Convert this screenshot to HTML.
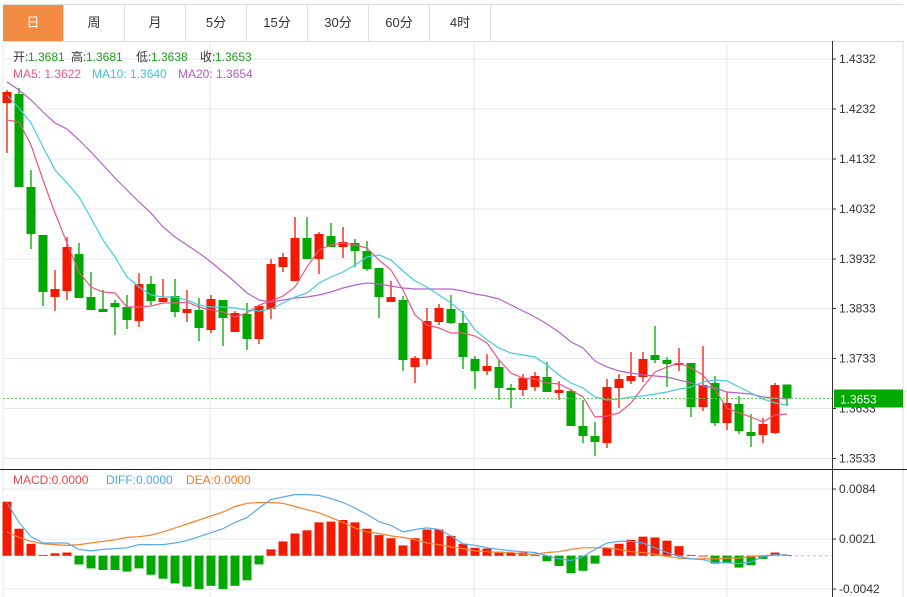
<!DOCTYPE html>
<html><head><meta charset="utf-8"><style>
body{margin:0;background:#fff;width:907px;height:597px;overflow:hidden;font-family:"Liberation Sans","Noto Sans CJK SC",sans-serif;}
#tabs{position:absolute;left:3px;top:4px;height:36px;display:flex;border-top:1px solid #ddd;border-bottom:1px solid #ddd;width:900px}
.tab{width:60px;border-right:1px solid #ddd;text-align:center;line-height:36px;font-size:13px;color:#333}
.tab.on{background:#F38C42;color:#fff}
svg{position:absolute;left:0;top:0}
</style></head><body>
<div id="tabs">
<div class="tab on">日</div>
<div class="tab">周</div>
<div class="tab">月</div>
<div class="tab">5分</div>
<div class="tab">15分</div>
<div class="tab">30分</div>
<div class="tab">60分</div>
<div class="tab">4时</div>
</div>
<svg id="chart" width="907" height="597"></svg>
<script>
const opens=[1.4244,1.4262,1.4076,1.3980,1.3856,1.3868,1.3942,1.3856,1.3832,1.3844,1.3836,1.3808,1.3882,1.3846,1.3858,1.3824,1.3830,1.3790,1.3850,1.3786,1.3822,1.3772,1.3832,1.3916,1.3888,1.3974,1.3932,1.3978,1.3956,1.3964,1.3948,1.3914,1.3846,1.3850,1.3716,1.3732,1.3806,1.3832,1.3804,1.3732,1.3708,1.3716,1.3674,1.3670,1.3676,1.3696,1.3664,1.3668,1.3598,1.3578,1.3564,1.3674,1.3688,1.3696,1.3740,1.3730,1.3720,1.3724,1.3636,1.3684,1.3604,1.3642,1.3586,1.3580,1.3584,1.3681];
const highs=[1.4270,1.4274,1.4110,1.3980,1.3910,1.3976,1.3964,1.3906,1.3870,1.3850,1.3860,1.3904,1.3898,1.3892,1.3892,1.3870,1.3854,1.3860,1.3850,1.3828,1.3844,1.3838,1.3932,1.3944,1.4016,1.4016,1.3986,1.4004,1.3996,1.3972,1.3968,1.3914,1.3888,1.3858,1.3738,1.3834,1.3842,1.3860,1.3828,1.3738,1.3742,1.3730,1.3682,1.3702,1.3706,1.3726,1.3688,1.3672,1.3650,1.3606,1.3692,1.3702,1.3746,1.3746,1.3798,1.3736,1.3754,1.3724,1.3758,1.3698,1.3666,1.3658,1.3622,1.3614,1.3684,1.3681];
const lows=[1.4144,1.4076,1.3952,1.3838,1.3828,1.3850,1.3854,1.3830,1.3826,1.3780,1.3792,1.3796,1.3840,1.3846,1.3816,1.3806,1.3768,1.3784,1.3758,1.3786,1.3750,1.3762,1.3812,1.3906,1.3888,1.3932,1.3902,1.3956,1.3934,1.3916,1.3908,1.3814,1.3846,1.3708,1.3684,1.3720,1.3800,1.3802,1.3712,1.3672,1.3700,1.3650,1.3634,1.3658,1.3668,1.3666,1.3650,1.3598,1.3564,1.3538,1.3554,1.3634,1.3682,1.3686,1.3724,1.3676,1.3708,1.3616,1.3628,1.3598,1.3590,1.3582,1.3556,1.3564,1.3582,1.3638];
const closes=[1.4266,1.4076,1.3982,1.3866,1.3872,1.3956,1.3854,1.3830,1.3826,1.3836,1.3810,1.3882,1.3848,1.3854,1.3826,1.3832,1.3794,1.3852,1.3814,1.3824,1.3772,1.3838,1.3922,1.3936,1.3974,1.3932,1.3982,1.3956,1.3966,1.3948,1.3912,1.3856,1.3856,1.3730,1.3734,1.3808,1.3834,1.3804,1.3736,1.3708,1.3718,1.3674,1.3670,1.3694,1.3698,1.3666,1.3670,1.3598,1.3578,1.3566,1.3676,1.3692,1.3698,1.3732,1.3730,1.3722,1.3724,1.3636,1.3680,1.3604,1.3644,1.3588,1.3578,1.3602,1.3680,1.3653];
const ma5=[1.4210,1.4206,1.4160,1.4090,1.4024,1.3964,1.3906,1.3876,1.3866,1.3864,1.3836,1.3836,1.3838,1.3844,1.3844,1.3846,1.3836,1.3830,1.3826,1.3816,1.3824,1.3840,1.3848,1.3858,1.3876,1.3916,1.3950,1.3960,1.3964,1.3960,1.3954,1.3930,1.3910,1.3870,1.3820,1.3800,1.3794,1.3784,1.3784,1.3778,1.3764,1.3730,1.3704,1.3694,1.3692,1.3684,1.3682,1.3670,1.3656,1.3616,1.3618,1.3624,1.3644,1.3676,1.3706,1.3716,1.3724,1.3714,1.3700,1.3670,1.3634,1.3624,1.3616,1.3606,1.3620,1.3622];
const ma10=[1.4260,1.4234,1.4204,1.4156,1.4110,1.4084,1.4056,1.4014,1.3970,1.3936,1.3896,1.3876,1.3860,1.3856,1.3856,1.3850,1.3840,1.3836,1.3836,1.3834,1.3830,1.3828,1.3832,1.3844,1.3856,1.3864,1.3884,1.3896,1.3906,1.3920,1.3936,1.3940,1.3930,1.3908,1.3888,1.3876,1.3860,1.3844,1.3824,1.3790,1.3770,1.3754,1.3744,1.3740,1.3736,1.3720,1.3700,1.3684,1.3674,1.3656,1.3650,1.3652,1.3656,1.3658,1.3662,1.3666,1.3672,1.3676,1.3686,1.3690,1.3688,1.3676,1.3664,1.3652,1.3644,1.3640];
const ma20=[1.4286,1.4270,1.4250,1.4226,1.4204,1.4192,1.4170,1.4146,1.4120,1.4094,1.4070,1.4046,1.4024,1.3996,1.3976,1.3960,1.3944,1.3926,1.3906,1.3886,1.3864,1.3850,1.3846,1.3850,1.3854,1.3856,1.3860,1.3866,1.3874,1.3880,1.3884,1.3882,1.3878,1.3874,1.3872,1.3872,1.3872,1.3872,1.3868,1.3862,1.3858,1.3852,1.3840,1.3828,1.3816,1.3802,1.3786,1.3766,1.3754,1.3728,1.3716,1.3708,1.3704,1.3700,1.3698,1.3696,1.3690,1.3684,1.3678,1.3674,1.3666,1.3664,1.3662,1.3656,1.3654,1.3652];
const macdHist=[0.0068,0.0034,0.0015,0.0001,0.0003,0.0004,-0.0011,-0.0016,-0.0018,-0.0018,-0.0020,-0.0016,-0.0024,-0.0029,-0.0035,-0.0039,-0.0042,-0.0038,-0.0042,-0.0038,-0.0031,-0.0011,0.0008,0.0018,0.0028,0.0032,0.0042,0.0043,0.0045,0.0042,0.0034,0.0026,0.0022,0.0013,0.0022,0.0033,0.0033,0.0025,0.0015,0.0010,0.0009,0.0005,0.0004,0.0004,0.0001,-0.0007,-0.0013,-0.0022,-0.0019,-0.0010,0.0010,0.0015,0.0020,0.0024,0.0023,0.0019,0.0012,0.0001,0.0000,-0.0010,-0.0009,-0.0015,-0.0012,-0.0004,0.0004,0.0001];
const diff=[0.0067,0.0042,0.0024,0.0016,0.0016,0.0016,0.0008,0.0006,0.0008,0.0009,0.0010,0.0014,0.0014,0.0014,0.0016,0.0019,0.0024,0.0029,0.0034,0.0042,0.0048,0.0060,0.0071,0.0074,0.0077,0.0077,0.0076,0.0072,0.0067,0.0060,0.0052,0.0043,0.0038,0.0030,0.0033,0.0035,0.0033,0.0025,0.0015,0.0013,0.0010,0.0008,0.0006,0.0005,0.0004,0.0000,-0.0004,-0.0006,-0.0001,0.0008,0.0016,0.0018,0.0018,0.0016,0.0010,0.0004,-0.0001,-0.0004,-0.0005,-0.0009,-0.0009,-0.0010,-0.0008,-0.0001,0.0001,0.0001];
const dea=[0.0030,0.0023,0.0018,0.0015,0.0014,0.0013,0.0014,0.0016,0.0018,0.0020,0.0023,0.0024,0.0026,0.0030,0.0035,0.0040,0.0045,0.0050,0.0055,0.0062,0.0066,0.0067,0.0067,0.0066,0.0062,0.0058,0.0054,0.0048,0.0042,0.0035,0.0030,0.0028,0.0025,0.0023,0.0020,0.0016,0.0014,0.0011,0.0009,0.0006,0.0005,0.0004,0.0004,0.0002,0.0002,0.0004,0.0005,0.0008,0.0010,0.0010,0.0010,0.0008,0.0005,0.0004,0.0002,-0.0001,-0.0003,-0.0004,-0.0004,-0.0004,-0.0003,-0.0003,-0.0001,0,0.0001,0.0001];
const priceTicks=["1.4332","1.4232","1.4132","1.4032","1.3932","1.3833","1.3733","1.3633","1.3533"];
const macdTicks=["0.0084","0.0021","-0.0042"];
const lastPrice=1.3653;

const NS="http://www.w3.org/2000/svg";
const svg=document.getElementById('chart');
function mk(tag,attrs,parent){const e=document.createElementNS(NS,tag);for(const k in attrs)e.setAttribute(k,attrs[k]);(parent||svg).appendChild(e);return e;}
const xOf=i=>7+i*12;
const yP=v=>59+(1.4332-v)*5000;
const yM=v=>555.7-v/0.000126;
const RED="#F21A00",GREEN="#00A800";
priceTicks.forEach((t,i)=>{const y=yP(parseFloat(t));
 const g=mk('line',{x1:3,x2:832,y1:y,y2:y,stroke:'#E3EAF0'});
 
 mk('line',{x1:832,x2:836,y1:y,y2:y,stroke:'#333'});
 const tx=mk('text',{x:839,y:y+4,'font-size':12,fill:'#333'});tx.textContent=t;
 
});
macdTicks.forEach(t=>{const y=yM(parseFloat(t));
 const g=mk('line',{x1:3,x2:832,y1:y,y2:y,stroke:'#E3EAF0'});
 
 mk('line',{x1:832,x2:836,y1:y,y2:y,stroke:'#333'});
 const tx=mk('text',{x:839,y:y+4,'font-size':12,fill:'#333'});tx.textContent=t;
 
});
[210,474,727].forEach(x=>{mk('line',{x1:x,x2:x,y1:41,y2:468,stroke:'#E3EAF0'});mk('line',{x1:x,x2:x,y1:470,y2:597,stroke:'#E3EAF0'});});
mk('line',{x1:3,x2:3,y1:41,y2:597,stroke:'#E3EAF0'});
mk('line',{x1:903,x2:903,y1:41,y2:597,stroke:'#DDD'});
mk('line',{x1:832.5,x2:832.5,y1:41,y2:597,stroke:'#333'});
mk('line',{x1:0,x2:907,y1:469.5,y2:469.5,stroke:'#222'});
mk('line',{x1:3,x2:832,y1:555.7,y2:555.7,stroke:'#9CCBEA','stroke-dasharray':'3,3'});
closes.forEach((c,i)=>{const o=opens[i],up=c>=o,col=up?RED:GREEN,x=xOf(i);
 const g=mk('g',{});
 mk('line',{x1:x,x2:x,y1:yP(highs[i]),y2:yP(lows[i]),stroke:col,'stroke-width':1.3},g);
 const t=yP(Math.max(o,c)),b=yP(Math.min(o,c));
 mk('rect',{x:x-4.5,y:t,width:9,height:Math.max(1.5,b-t),fill:col},g);
});
function line(arr,yf,col,name){const p=mk('polyline',{points:arr.map((v,i)=>xOf(i)+','+yf(v).toFixed(1)).join(' '),fill:'none',stroke:col,'stroke-width':1.2});
 }
line(ma20,yP,'#B662CA','ma20-line');line(ma10,yP,'#42CCE0','ma10-line');line(ma5,yP,'#EE5485','ma5-line');
const ly=yP(lastPrice);
mk('line',{x1:3,x2:832,y1:ly,y2:ly,stroke:'#5CCB5C','stroke-dasharray':'2,2'});
const pb=mk('rect',{x:834,y:ly-9,width:69,height:18,fill:'#00A800'});

const pt=mk('text',{x:840,y:ly+5,'font-size':12,fill:'#fff'});pt.textContent=lastPrice.toFixed(4);
macdHist.forEach((v,i)=>{const x=xOf(i),y0=yM(0),y1=yM(v);
 const r=mk('rect',{x:x-4.5,y:Math.min(y0,y1),width:9,height:Math.max(0.8,Math.abs(y1-y0)),fill:v>=0?RED:GREEN});
 });
line(dea,yM,'#F5822A','dea-line');line(diff,yM,'#55AAF0','diff-line');
function legend(y,parts,name){const t=mk('text',{y:y,'font-size':12});
 parts.forEach(([x,s,c])=>{const ts=mk('tspan',{x:x,fill:c},t);ts.textContent=s;});}
legend(61,[[13,'开:','#333'],[28,'1.3681','#1A9F1A'],[71,'高:','#333'],[86,'1.3681','#1A9F1A'],[136,'低:','#333'],[151,'1.3638','#1A9F1A'],[200,'收:','#333'],[215,'1.3653','#1A9F1A']],'ohlc-legend');
legend(78,[[13,'MA5: 1.3622','#EE5485'],[92,'MA10: 1.3640','#38C4D8'],[178,'MA20: 1.3654','#B15CC6']],'ma-legend');
legend(484,[[13,'MACD:0.0000','#EE4444'],[106,'DIFF:0.0000','#4DA6F0'],[186,'DEA:0.0000','#F27A20']],'macd-legend');
</script>
</body></html>
